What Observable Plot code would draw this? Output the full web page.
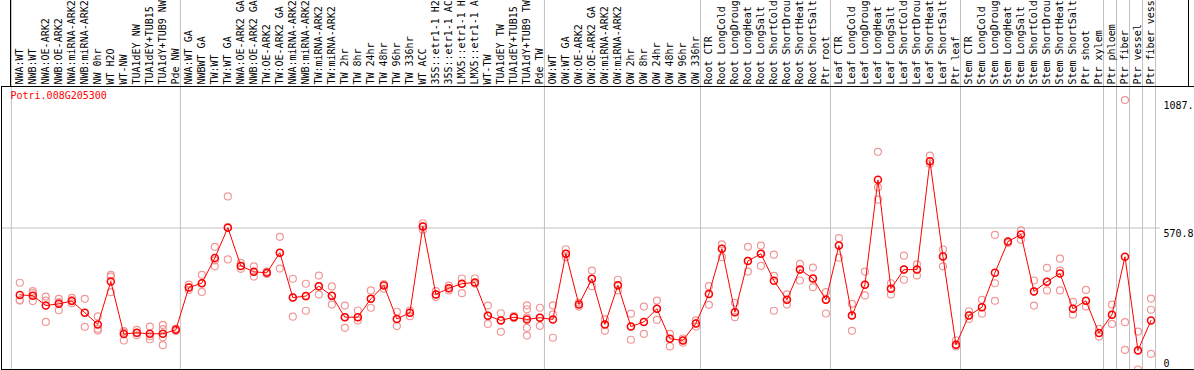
<!DOCTYPE html>
<html><head><meta charset="utf-8">
<script src="https://cdn.jsdelivr.net/npm/d3@7"></script>
<script src="https://cdn.jsdelivr.net/npm/@observablehq/plot@0.6"></script>
<style>
html,body{margin:0;padding:0;background:#fff;}
#chart{width:1194px;height:370px;overflow:hidden;position:relative;}
#chart svg{display:block;}
</style></head><body><div id="chart"></div>
<script>
const gene = "Potri.008G205300";
const samples = [
  "NWA:WT","NWB:WT","NWA:OE-ARK2","NWB:OE-ARK2","NWA:miRNA-ARK2","NWB:miRNA-ARK2","NW 0hr","WT H2O","WT-NW","TUA1dEY NW","TUA1dEY+TUB15 NW","TUA1dY+TUB9 NW","Pde NW",
  "NWA:WT GA","NWBWT GA","TW:WT","TW:WT GA","NWA:OE-ARK2 GA","NWB:OE-ARK2 GA","TW:OE-ARK2","TW:OE-ARK2 GA","NWA:miRNA-ARK2 GA","NWB:miRNA-ARK2 GA","TW:miRNA-ARK2","TW:miRNA-ARK2 GA","TW 2hr","TW 8hr","TW 24hr","TW 48hr","TW 96hr","TW 336hr","WT ACC","35S::etr1-1 H2O","35S::etr1-1 ACC","LMX5::etr1-1 H2O","LMX5::etr1-1 ACC","WT-TW","TUA1dEY TW","TUA1dEY+TUB15 TW","TUA1dY+TUB9 TW","Pde TW",
  "OW:WT","OW:WT GA","OW:OE-ARK2","OW:OE-ARK2 GA","OW:miRNA-ARK2","OW:miRNA-ARK2 GA","OW 2hr","OW 8hr","OW 24hr","OW 48hr","OW 96hr","OW 336hr",
  "Root CTR","Root LongCold","Root LongDrought","Root LongHeat","Root LongSalt","Root ShortCold","Root ShortDrought","Root ShortHeat","Root ShortSalt","Ptr root",
  "Leaf CTR","Leaf LongCold","Leaf LongDrought","Leaf LongHeat","Leaf LongSalt","Leaf ShortCold","Leaf ShortDrought","Leaf ShortHeat","Leaf ShortSalt","Ptr leaf",
  "Stem CTR","Stem LongCold","Stem LongDrought","Stem LongHeat","Stem LongSalt","Stem ShortCold","Stem ShortDrought","Stem ShortHeat","Stem ShortSalt","Ptr shoot","Ptr xylem",
  "Ptr phloem","Ptr fiber","Ptr vessel","Ptr fiber vessel"
];
const labelChars = 14; // the label strip shows the first 14 characters of each sample name
const means = [
  301,298,258,265,276,229,182,355,143,148,144,144,160,
  331,348,450,572,418,394,390,471,290,296,336,297,211,211,285,339,204,229,577,303,328,346,351,217,198,211,202,209,
  202,467,262,366,182,340,173,192,245,124,117,186,
  305,487,231,438,467,358,281,403,367,281,
  500,218,342,765,326,403,403,840,456,100,
  218,251,390,516,545,315,354,387,245,277,147,
  221,455,77,198
];
const replicates = [
  [350,280,278],[316,308,276],[294,278,192],[285,272,239],[289,280,267],[285,229,172],[214,164,157],[382,375,312],[155,117,150],[160,147,138],[173,135,122],[180,163,130,98],[165,155,160],
  [342,321,331],[382,313,348],[495,416,440],[698,444,574],[430,406,418],[416,375,394],[395,385],[535,407,471],[366,213,290],[346,237,296],[379,303,336],[335,262,297],[258,168,211],[238,198,211],[319,249,285],[326,345],[233,175,204],[238,215,229],[590,564,577],[316,292,303],[338,319,328],[367,308,346],[367,346,351],[258,184,217],[227,152,198],[215,208],[259,243,210,168,137],[249,176,209],
  [259,222,128],[485,453,467],[270,254],[399,336,366],[202,156,182],[362,319,340],[225,120,173],[254,144,192],[278,200,245],[144,93,124],[125,108,117],[198,173,186],
  [336,261,305],[505,453,487],[269,211,231],[495,395,438],[500,418,467],[463,378,237],[303,262,281],[426,359,403],[411,332,367],[312,226,281],
  [530,451,500],[265,156,218],[395,299,342],[878,735,685],[348,303,326],[459,362,403],[424,379,403],[863,830,840],[484,416,456],[117,93,100],
  [235,204,218],[281,225,251],[543,348,277],[516,510],[561,523,545],[359,258,315],[410,319,354],[447,399,319],[273,221,245],[321,254,277],[164,133,147],
  [262,184,221],[1087,191,79],[153,78,0],[286,241,63]
];
const groupStarts = [0,13,41,53,63,73,84,85,86,87,88];
const scaleMax = 1141.6;
const gridValues = [570.8];
const tickTop = [1087, 570.8];
const tickTopLabels = ["1087.", "570.8"];
const tickBottom = [0];
const tickBottomLabels = ["0"];

const W = 1194, X0 = 19.3, STEP = 13.002;
const xDom = (l, r) => [(l - X0) / STEP, (r - X0) / STEP];
const font = "'DejaVu Sans Mono', monospace";

const cols = samples.map((s, i) => ({i, s, label: s.slice(0, labelChars), mean: means[i]}));
const reps = replicates.flatMap((r, i) => r.map(v => ({i, v})));
const seps = groupStarts.map(g => ({x: g - 0.65}));

const topPlot = Plot.plot({
  width: W, height: 88, marginTop: 0, marginBottom: 0, marginLeft: 10, marginRight: 6,
  x: {type: "linear", domain: xDom(10, 1188), axis: null},
  style: {fontFamily: font, fontSize: "10px", background: "white"},
  marks: [
    Plot.ruleX(seps, {x: "x", stroke: "#c0c0c0", strokeWidth: 1}),
    Plot.text(cols, {x: "i", text: "label", frameAnchor: "bottom", rotate: -90, textAnchor: "start", lineAnchor: "middle", dy: -2, fill: "black", fontSize: 10}),
    Plot.frame({stroke: "black"})
  ]
});
topPlot.style.marginTop = "-2px";

const mainPlot = Plot.plot({
  width: W, height: 284, marginTop: 0, marginBottom: 1, marginLeft: 1, marginRight: 0,
  x: {type: "linear", domain: xDom(1, 1194), axis: null},
  y: {domain: [0, scaleMax], axis: null},
  style: {fontFamily: font, fontSize: "10px", background: "white"},
  marks: [
    Plot.ruleY(gridValues, {stroke: "#c0c0c0", insetRight: 34}),
    Plot.ruleX(seps, {x: "x", stroke: "#c0c0c0"}),
    Plot.dot(reps, {x: "i", y: "v", r: 3.5, stroke: "#f09898", strokeWidth: 1.2, fill: "none"}),
    Plot.line(cols, {x: "i", y: "mean", stroke: "#ff0000", strokeWidth: 1}),
    Plot.dot(cols, {x: "i", y: "mean", r: 3.5, stroke: "#ff0000", strokeWidth: 1.5, fill: "none"}),
    Plot.text([gene], {frameAnchor: "top-left", dx: 9, dy: 5, textAnchor: "start", lineAnchor: "top", fill: "#ff0000", fontSize: 10}),
    Plot.text(tickTop, {y: d => d, text: (d, i) => tickTopLabels[i], frameAnchor: "right", dx: -31, dy: 2, textAnchor: "start", lineAnchor: "top", fill: "black", fontSize: 10}),
    Plot.text(tickBottom, {y: d => d, text: (d, i) => tickBottomLabels[i], frameAnchor: "right", dx: -31, dy: -3, textAnchor: "start", lineAnchor: "bottom", fill: "black", fontSize: 10}),
    Plot.frame({stroke: "black"})
  ]
});

const chart = document.getElementById("chart");
chart.appendChild(topPlot);
chart.appendChild(mainPlot);
</script>
</body></html>
